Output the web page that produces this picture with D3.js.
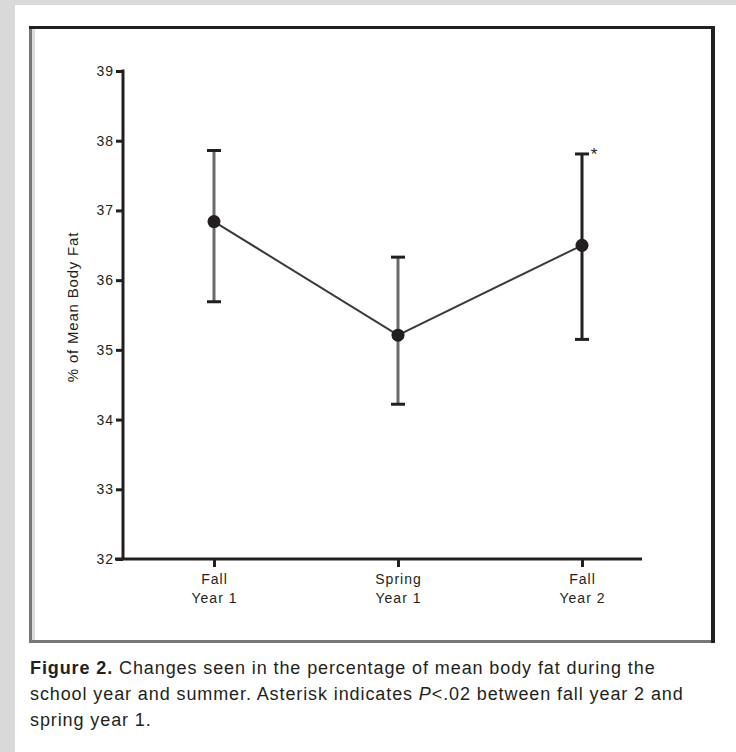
<!doctype html>
<html lang="en">
  <head>
    <meta charset="utf-8">
    <script src="https://d3js.org/d3.v7.min.js"></script>
    <title>Figure 2 - Percentage of mean body fat</title>
    <style>
      body { margin: 0; background: #fff; }
      svg text { font-family: "Liberation Sans", Arial, sans-serif; fill: #231f20; }
      .axis path, .axis line { stroke: #231f20; }
      .axis text { font-size: 14px; letter-spacing: 1px; }
    </style>
  </head>
  <body>
    <svg width="736" height="752"></svg>
  <script>
    // data
    var periods = ["Fall|Year 1", "Spring|Year 1", "Fall|Year 2"];
    var meanFat = [36.84, 35.21, 36.50];
    var upperBar = [37.86, 36.33, 37.81];
    var lowerBar = [35.69, 34.22, 35.15];
    var yTicks = [32, 33, 34, 35, 36, 37, 38, 39];
    var marked = [false, false, true];   // asterisk

    var data = periods.map(function(p, i) {
      return {period: p, mean: meanFat[i], hi: upperBar[i], lo: lowerBar[i], star: marked[i]};
    });

    var svg = d3.select("svg");

    // page background strips + frame
    svg.append("rect").attr("width", 736).attr("height", 752).attr("fill", "#d9d9d9");
    svg.append("rect").attr("x", 15).attr("y", 5).attr("width", 721).attr("height", 747).attr("fill", "#fff");
    svg.append("rect").attr("x", 32).attr("y", 28).attr("width", 3).attr("height", 612).attr("fill", "#dcdcdc");
    svg.append("line").attr("x1", 30.5).attr("y1", 26).attr("x2", 30.5).attr("y2", 643)
        .attr("stroke", "#777").attr("stroke-width", 3);
    svg.append("line").attr("x1", 29).attr("y1", 641.5).attr("x2", 715).attr("y2", 641.5)
        .attr("stroke", "#777").attr("stroke-width", 3);
    svg.append("line").attr("x1", 29).attr("y1", 27.5).attr("x2", 715).attr("y2", 27.5)
        .attr("stroke", "#231f20").attr("stroke-width", 3);
    svg.append("line").attr("x1", 713).attr("y1", 26).attr("x2", 713).attr("y2", 643)
        .attr("stroke", "#231f20").attr("stroke-width", 4);

    var xScale = d3.scalePoint()
        .domain(periods)
        .range([214, 582]);
    var yScale = d3.scaleLinear()
        .domain([32, 39])
        .range([559, 71]);
    var axisX = 123;

    // y axis
    var yAxis = svg.append("g")
        .attr("class", "y axis")
        .attr("transform", "translate(" + axisX + ",0)")
        .call(d3.axisLeft(yScale).tickValues(yTicks).tickFormat(d3.format("d"))
            .tickSize(7).tickSizeOuter(0).tickPadding(2));
    yAxis.selectAll("path, line").attr("stroke-width", 3);
    yAxis.select(".domain").attr("d", "M0," + (yScale(39) - 1.5) + "V" + yScale(32));

    // x axis
    var xAxis = svg.append("g")
        .attr("class", "x axis")
        .attr("transform", "translate(0," + yScale(32) + ")")
        .call(d3.axisBottom(xScale).tickSize(8).tickSizeOuter(0).tickFormat(""));
    xAxis.select(".domain").attr("d", "M" + (axisX - 8) + ",0H642");
    xAxis.selectAll("path, line").attr("stroke-width", 3);
    xAxis.selectAll(".tick text").remove();
    xAxis.selectAll(".tick").append("text")
        .attr("text-anchor", "middle")
        .attr("y", 25)
        .selectAll("tspan")
        .data(function(d) { return d.split("|"); })
        .enter().append("tspan")
        .attr("x", 0)
        .attr("dy", function(d, i) { return i ? 19 : 0; })
        .text(function(d) { return d; });

    // y axis title
    svg.append("text")
        .attr("transform", "translate(78,307) rotate(-90)")
        .attr("text-anchor", "middle")
        .style("font-size", "15px")
        .style("letter-spacing", "0.8px")
        .text("% of Mean Body Fat");

    var plot = svg.append("g");

    // error bars
    var bars = plot.selectAll(".bar")
        .data(data)
        .enter().append("g")
        .attr("class", "bar")
        .attr("stroke", function(d, i) { return i < 2 ? "#6a6a6a" : "#231f20"; });
    bars.append("line")
        .attr("x1", function(d) { return xScale(d.period); })
        .attr("x2", function(d) { return xScale(d.period); })
        .attr("y1", function(d) { return yScale(d.hi); })
        .attr("y2", function(d) { return yScale(d.lo); })
        .attr("stroke-width", 3);
    bars.selectAll(".cap")
        .data(function(d) { return [d.hi, d.lo].map(function(v) { return {x: xScale(d.period), v: v}; }); })
        .enter().append("line")
        .attr("class", "cap")
        .attr("x1", function(d) { return d.x - 7; })
        .attr("x2", function(d) { return d.x + 7; })
        .attr("y1", function(d) { return yScale(d.v); })
        .attr("y2", function(d) { return yScale(d.v); })
        .attr("stroke", "#231f20")
        .attr("stroke-width", 3);

    // mean line + markers
    var line = d3.line()
        .x(function(d) { return xScale(d.period); })
        .y(function(d) { return yScale(d.mean); });
    plot.append("path")
        .datum(data)
        .attr("fill", "none")
        .attr("stroke", "#3a3a3a")
        .attr("stroke-width", 2)
        .attr("d", line);
    plot.selectAll(".dot")
        .data(data)
        .enter().append("circle")
        .attr("class", "dot")
        .attr("cx", function(d) { return xScale(d.period); })
        .attr("cy", function(d) { return yScale(d.mean); })
        .attr("r", 6.5)
        .attr("fill", "#231f20");

    plot.selectAll(".star")
        .data(data.filter(function(d) { return d.star; }))
        .enter().append("text")
        .attr("x", function(d) { return xScale(d.period) + 12; })
        .attr("y", function(d) { return yScale(d.hi) + 6; })
        .attr("text-anchor", "middle")
        .style("font-size", "17px")
        .text("*");

    // caption
    var caption = svg.append("text")
        .attr("x", 30)
        .attr("y", 674)
        .style("font-size", "18px")
        .style("letter-spacing", "0.9px");
    var l1 = caption.append("tspan");
    l1.append("tspan").style("font-weight", "bold").text("Figure 2. ");
    l1.append("tspan").text("Changes seen in the percentage of mean body fat during the");
    var l2 = caption.append("tspan").attr("x", 30).attr("dy", 26);
    l2.append("tspan").text("school year and summer. Asterisk indicates ");
    l2.append("tspan").style("font-style", "italic").text("P");
    l2.append("tspan").text("<.02 between fall year 2 and");
    caption.append("tspan").attr("x", 30).attr("dy", 26).text("spring year 1.");
  </script>
  </body>
</html>
